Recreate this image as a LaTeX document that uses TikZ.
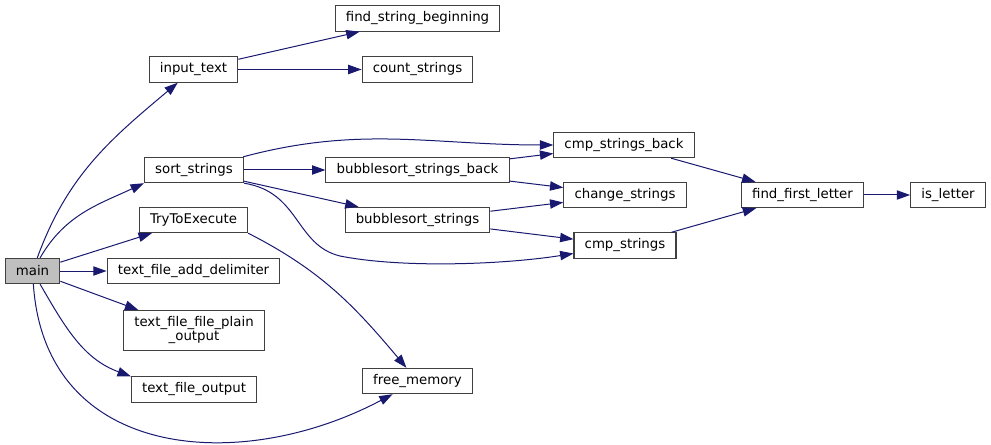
\documentclass[tikz,border=0pt]{standalone}
\usepackage{fontspec}
\setmainfont{DejaVu Sans}
\usetikzlibrary{arrows.meta}
\definecolor{edgeblue}{HTML}{191970}
\definecolor{boxgrey}{HTML}{404040}
\definecolor{mainfill}{HTML}{BFBFBF}
\tikzset{
  box/.style={rectangle,draw=boxgrey,fill=#1,line width=0.8pt,inner xsep=8pt,
    inner ysep=2pt,minimum height=19pt,align=center,
    font=\fontsize{10}{10.5}\selectfont},
  box/.default=white,
  arrow/.style={-{Triangle[length=10pt,width=7pt]},draw=edgeblue,line width=0.75pt},
}

\begin{document}
\begin{tikzpicture}[x=0.75pt,y=0.75pt]
    \useasboundingbox (0,0) rectangle (991,-445);
    % caller
    \node[box=mainfill] (main) at (32.5,-271) {main};
    % called by main
    \node[box] (input) at (193.5,-69.5) {input\_text};
    \node[box] (sort) at (194,-170) {sort\_strings};
    \node[box] (tryexec) at (193.5,-220) {TryToExecute};
    \node[box] (delim) at (193.5,-271) {text\_file\_add\_delimiter};
    \node[box,minimum height=30pt] (plain) at (194,-330.5) {text\_file\_file\_plain\\\_output};
    \node[box] (tout) at (194,-389.5) {text\_file\_output};
    % second level
    \node[box] (findbeg) at (417.5,-18.5) {find\_string\_beginning};
    \node[box] (count) at (417.5,-69.5) {count\_strings};
    \node[box] (bsback) at (417.5,-170) {bubblesort\_strings\_back};
    \node[box] (bsort) at (417.5,-220) {bubblesort\_strings};
    \node[box] (freemem) at (417.5,-381) {free\_memory};
    % third level
    \node[box] (cmpback) at (624,-145) {cmp\_strings\_back};
    \node[box] (change) at (625,-195) {change\_strings};
    \node[box] (cmp) at (625,-245.5) {cmp\_strings};
    \node[box] (first) at (802.5,-195) {find\_first\_letter};
    \node[box] (isletter) at (948,-195) {is\_letter};

    \foreach \a/\b in {main/tryexec, main/delim, main/plain, input/findbeg, input/count,
        sort/bsback, sort/bsort, bsback/cmpback, bsback/change, bsort/change, bsort/cmp,
        cmpback/first, cmp/first, first/isletter}
      \draw[arrow] (\a) -- (\b);

    \draw[arrow] (main) to[out=70,in=220] (input);
    \draw[arrow] (main) to[out=60,in=205] (sort.south west);
    \draw[arrow] (main) to[out=-60,in=160] (tout.north west);
    \draw[arrow] (main) .. controls (45,-460) and (240,-475) .. (freemem);
    \draw[arrow] (sort) to[out=15,in=180] (cmpback);
    \draw[arrow] (sort.south east) .. controls (300,-192) and (295,-245) .. (340,-256)
      .. controls (400,-268) and (500,-265) .. (cmp);
    \draw[arrow] (tryexec.south east) to[out=-27,in=130] (freemem);
\end{tikzpicture}
\end{document}
